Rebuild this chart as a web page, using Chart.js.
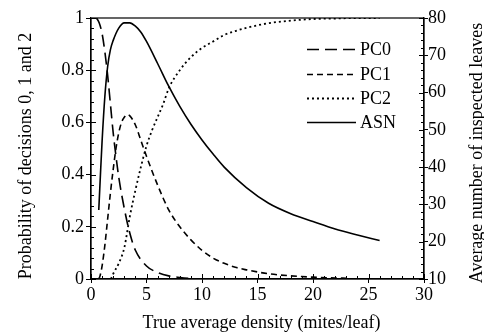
<!DOCTYPE html>
<html>
<head>
<meta charset="utf-8">
<script src="https://cdn.jsdelivr.net/npm/chart.js@4/dist/chart.umd.min.js"></script>
<style>
html,body{margin:0;padding:0;background:#fff;}
#wrap{width:484px;height:335px;position:relative;}
</style>
</head>
<body>
<div id="wrap"><canvas id="c" width="484" height="335"></canvas></div>
<script>
// ---- data ----
const xTitle = "True average density (mites/leaf)";
const yTitle = "Probability of decisions 0, 1 and 2";
const y2Title = "Average number of inspected leaves";
const seriesNames = ["PC0", "PC1", "PC2", "ASN"];

const pc0X = [0.5, 0.75, 1.0, 1.25, 1.5, 1.75, 2.0, 2.25, 2.5, 3.0, 3.5, 4.0, 5.0, 6.0, 7.0, 8.0, 9.0, 10];
const pc0Y = [1.0, 0.98, 0.94, 0.87, 0.78, 0.67, 0.56, 0.47, 0.39, 0.27, 0.175, 0.11, 0.05, 0.025, 0.012, 0.006, 0.002, 0];

const pc1X = [0.7, 0.8, 1.0, 1.25, 1.5, 1.75, 2.0, 2.25, 2.5, 2.75, 3.0, 3.25, 3.5, 4.0, 4.5, 5.0, 6.0, 7.0, 8.0, 9.0, 10, 11, 12, 13, 14, 15, 16, 18, 20, 22, 23];
const pc1Y = [0, 0.01, 0.05, 0.13, 0.23, 0.33, 0.42, 0.5, 0.56, 0.6, 0.62, 0.63, 0.625, 0.59, 0.53, 0.47, 0.36, 0.265, 0.2, 0.15, 0.11, 0.08, 0.06, 0.045, 0.035, 0.027, 0.02, 0.012, 0.007, 0.004, 0.003];

const pc2X = [1.8, 2.0, 2.5, 3.0, 3.5, 4.0, 4.5, 5.0, 5.5, 6.0, 6.5, 7.0, 8.0, 9.0, 10, 11, 12, 13, 14, 15, 16, 18, 20, 22, 24, 26];
const pc2Y = [0, 0.02, 0.06, 0.12, 0.24, 0.34, 0.43, 0.51, 0.57, 0.62, 0.67, 0.73, 0.8, 0.85, 0.885, 0.91, 0.935, 0.95, 0.962, 0.972, 0.98, 0.99, 0.996, 0.998, 1.0, 1.0];

const asnX = [0.7, 0.85, 1.0, 1.25, 1.5, 1.75, 2.0, 2.5, 3.0, 3.5, 4.0, 4.5, 5.0, 6.0, 7.0, 8.0, 9.0, 10, 11, 12, 14, 16, 18, 20, 22, 24, 26];
const asnY = [28.5, 38, 47, 59, 67, 71.5, 74, 77.3, 78.7, 78.7, 77.8, 76.2, 73.7, 67.8, 61.7, 56.3, 51.5, 47.3, 43.5, 40, 34.5, 30.3, 27.5, 25.4, 23.4, 21.8, 20.3];

const xTicks = [0, 5, 10, 15, 20, 25, 30];
const yTicks = [0, 0.2, 0.4, 0.6, 0.8, 1];
const y2Ticks = [10, 20, 30, 40, 50, 60, 70, 80];

// ---- helpers ----
const pts = (xs, ys) => xs.map((x, i) => ({x: x, y: ys[i]}));
const FONT = "'Liberation Serif', 'Times New Roman', serif";
const dashes = [[12, 6], [6, 4], [2, 3], []];

Chart.defaults.font.family = FONT;
Chart.defaults.font.size = 18;
Chart.defaults.color = '#000';

function ds(label, data, axis, dash) {
  return {
    label: label, data: data, yAxisID: axis,
    borderColor: '#000', backgroundColor: '#000',
    borderWidth: dash.length && dash[0] === 2 ? 1.8 : 1.6, borderDash: dash, pointRadius: 0,
    fill: false, cubicInterpolationMode: 'monotone', tension: 0.4
  };
}

const minorTicks = {
  id: 'minorTicks',
  afterDraw(chart) {
    const ctx = chart.ctx, a = chart.chartArea;
    const sx = chart.scales.x, sy = chart.scales.y, s2 = chart.scales.y2;
    ctx.save();
    ctx.strokeStyle = '#000';
    ctx.lineWidth = 1;
    ctx.setLineDash([]);
    ctx.beginPath();
    for (let v = 0; v <= 30; v += 1) {
      const p = Math.round(sx.getPixelForValue(v)) + 0.5;
      const len = (v % 5 === 0) ? 5 : 3;
      ctx.moveTo(p, a.bottom); ctx.lineTo(p, a.bottom - len);
    }
    for (let k = 0; k <= 25; k++) {
      const p = Math.round(sy.getPixelForValue(k * 0.04)) + 0.5;
      const len = (k % 5 === 0) ? 5 : 3;
      ctx.moveTo(a.left, p); ctx.lineTo(a.left + len, p);
    }
    for (let v = 10; v <= 80; v += 2) {
      const p = Math.round(s2.getPixelForValue(v)) + 0.5;
      const len = (v % 10 === 0) ? 5 : 3;
      ctx.moveTo(a.right, p); ctx.lineTo(a.right - len, p);
    }
    ctx.stroke();
    // frame
    ctx.lineWidth = 1.2;
    ctx.strokeRect(a.left, a.top, a.right - a.left, a.bottom - a.top);
    ctx.restore();
  }
};

const titlesAndLegend = {
  id: 'titlesAndLegend',
  afterDraw(chart) {
    const ctx = chart.ctx, a = chart.chartArea;
    ctx.save();
    ctx.fillStyle = '#000';
    ctx.font = '18px ' + FONT;
    // x title
    ctx.textAlign = 'center';
    ctx.textBaseline = 'alphabetic';
    ctx.fillText(xTitle, (a.left + a.right) / 2 + 4, 328);
    // left title
    ctx.save();
    ctx.translate(31, 156);
    ctx.rotate(-Math.PI / 2);
    ctx.fillText(yTitle, 0, 0);
    ctx.restore();
    // right title
    ctx.save();
    ctx.translate(482, 153);
    ctx.rotate(-Math.PI / 2);
    ctx.fillText(y2Title, 0, 0);
    ctx.restore();
    // legend
    const rows = [49, 74, 98, 122];
    ctx.textAlign = 'left';
    ctx.textBaseline = 'middle';
    chart.data.datasets.forEach((d, i) => {
      const y = rows[i];
      ctx.beginPath();
      ctx.lineWidth = d.borderWidth;
      ctx.setLineDash(d.borderDash);
      ctx.moveTo(307, y + 0.5);
      ctx.lineTo(356, y + 0.5);
      ctx.stroke();
      ctx.setLineDash([]);
      ctx.fillText(d.label, 360, y + 1);
    });
    ctx.restore();
  }
};

new Chart(document.getElementById('c'), {
  type: 'line',
  data: {
    datasets: [
      ds(seriesNames[0], pts(pc0X, pc0Y), 'y', dashes[0]),
      ds(seriesNames[1], pts(pc1X, pc1Y), 'y', dashes[1]),
      ds(seriesNames[2], pts(pc2X, pc2Y), 'y', dashes[2]),
      ds(seriesNames[3], pts(asnX, asnY), 'y2', dashes[3])
    ]
  },
  options: {
    responsive: false,
    animation: false,
    devicePixelRatio: 1,
    layout: {padding: {top: 18, left: 0, right: 0, bottom: 0}},
    plugins: {legend: {display: false}, tooltip: {enabled: false}},
    scales: {
      x: {
        type: 'linear', min: 0, max: 30,
        afterBuildTicks: s => { s.ticks = xTicks.map(v => ({value: v})); },
        ticks: {padding: 1, maxRotation: 0, autoSkip: false},
        grid: {drawOnChartArea: false, tickLength: 4, color: '#000'},
        border: {display: true, color: '#000', width: 1.2},
        afterFit: s => { s.height = 56; }
      },
      y: {
        type: 'linear', position: 'left', min: 0, max: 1,
        afterBuildTicks: s => { s.ticks = yTicks.map(v => ({value: v})); },
        ticks: {padding: 2, callback: v => String(Math.round(v * 10) / 10)},
        grid: {drawOnChartArea: false, tickLength: 5, color: '#000'},
        border: {display: true, color: '#000', width: 1.2},
        afterFit: s => { s.width = 91; }
      },
      y2: {
        type: 'linear', position: 'right', min: 10, max: 80,
        afterBuildTicks: s => { s.ticks = y2Ticks.map(v => ({value: v})); },
        ticks: {padding: 0},
        grid: {drawOnChartArea: false, tickLength: 4, color: '#000'},
        border: {display: true, color: '#000', width: 1.2},
        afterFit: s => { s.width = 60; }
      }
    }
  },
  plugins: [minorTicks, titlesAndLegend]
});
</script>
</body>
</html>
